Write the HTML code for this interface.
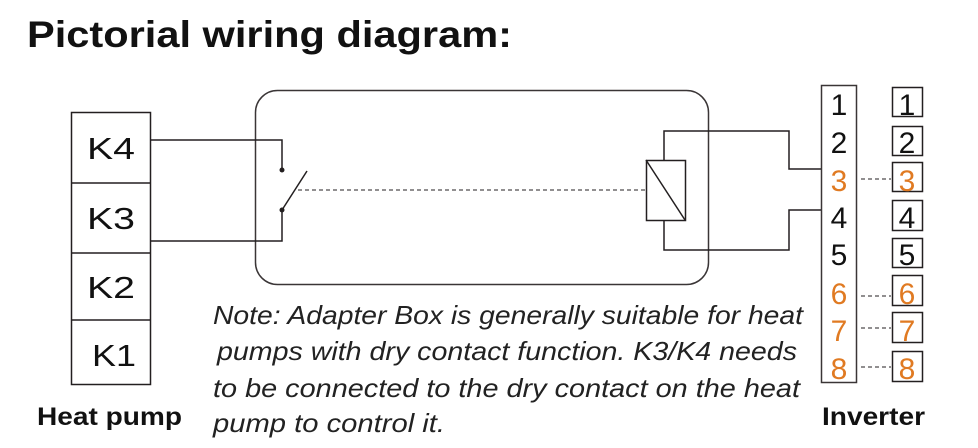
<!DOCTYPE html>
<html><head><style>html,body{margin:0;padding:0;background:#fff}svg{display:block}</style></head>
<body>
<svg width="978" height="448" viewBox="0 0 978 448" xmlns="http://www.w3.org/2000/svg" font-family="Liberation Sans, sans-serif">
<text x="27" y="47" font-size="37" font-weight="bold" textLength="485" lengthAdjust="spacingAndGlyphs" fill="#111">Pictorial wiring diagram:</text>
<g fill="none" stroke="#231f20" stroke-width="1.5">
<rect x="71.5" y="112.5" width="79" height="272"/>
<line x1="71" y1="183" x2="150" y2="183"/>
<line x1="71" y1="253" x2="150" y2="253"/>
<line x1="71" y1="320" x2="150" y2="320"/>
<rect x="255.5" y="90.5" width="453" height="194" rx="22" stroke="#3a3536"/>
<polyline points="150,140 282,140 282,170"/>
<polyline points="150,241 282,241 282,210"/>
<line x1="282" y1="210" x2="307" y2="171"/>
<line x1="298" y1="190" x2="646" y2="190" stroke-dasharray="4,3" stroke-width="1"/>
<rect x="646.5" y="160.5" width="39" height="60"/>
<line x1="646" y1="160" x2="685" y2="220"/>
<polyline points="664,160 664,131 789,131 789,169 821,169"/>
<polyline points="664,220 664,250 789,250 789,210 821,210"/>
<rect x="821.5" y="85.5" width="35" height="297" stroke="#3a3536"/>
<g stroke-dasharray="4,3" stroke-width="1">
<line x1="861" y1="179" x2="891" y2="179"/>
<line x1="861" y1="296" x2="891" y2="296"/>
<line x1="861" y1="328" x2="891" y2="328"/>
<line x1="861" y1="367" x2="891" y2="367"/>
</g>
<rect x="892.5" y="87.5" width="30" height="29"/>
<rect x="892.5" y="126.5" width="30" height="29"/>
<rect x="892.5" y="162.5" width="30" height="29"/>
<rect x="892.5" y="200.5" width="30" height="30"/>
<rect x="892.5" y="238.5" width="30" height="29"/>
<rect x="892.5" y="275.5" width="30" height="30"/>
<rect x="892.5" y="312.5" width="30" height="30"/>
<rect x="892.5" y="351.5" width="30" height="30"/>
</g>
<circle cx="282" cy="170" r="2.5" fill="#231f20"/>
<circle cx="282" cy="210" r="2.5" fill="#231f20"/>
<g font-size="31" fill="#111">
<text x="87" y="159" textLength="48" lengthAdjust="spacingAndGlyphs">K4</text>
<text x="87" y="229" textLength="48" lengthAdjust="spacingAndGlyphs">K3</text>
<text x="87" y="298" textLength="48" lengthAdjust="spacingAndGlyphs">K2</text>
<text x="92" y="366" textLength="44" lengthAdjust="spacingAndGlyphs">K1</text>
</g>
<g font-size="30" text-anchor="middle">
<text x="839" y="115" fill="#111">1</text>
<text x="839" y="153" fill="#111">2</text>
<text x="839" y="191" fill="#e07a22">3</text>
<text x="839" y="228" fill="#111">4</text>
<text x="839" y="265" fill="#111">5</text>
<text x="839" y="304" fill="#e07a22">6</text>
<text x="839" y="341" fill="#e07a22">7</text>
<text x="839" y="379" fill="#e07a22">8</text>
<text x="907" y="115" fill="#111">1</text>
<text x="907" y="153" fill="#111">2</text>
<text x="907" y="191" fill="#e07a22">3</text>
<text x="907" y="228" fill="#111">4</text>
<text x="907" y="265" fill="#111">5</text>
<text x="907" y="304" fill="#e07a22">6</text>
<text x="907" y="341" fill="#e07a22">7</text>
<text x="907" y="379" fill="#e07a22">8</text>
</g>
<g font-size="26" font-style="italic" fill="#222">
<text x="213" y="324" textLength="590" lengthAdjust="spacingAndGlyphs">Note:  Adapter Box is generally suitable for heat</text>
<text x="217" y="360" textLength="580" lengthAdjust="spacingAndGlyphs">pumps with dry contact function. K3/K4 needs</text>
<text x="213" y="397" textLength="587" lengthAdjust="spacingAndGlyphs">to be connected to the dry contact on the heat</text>
<text x="213" y="432" textLength="232" lengthAdjust="spacingAndGlyphs">pump to control it.</text>
</g>
<text x="37" y="425" font-size="25" font-weight="bold" fill="#111" textLength="145" lengthAdjust="spacingAndGlyphs">Heat pump</text>
<text x="822" y="425" font-size="25" font-weight="bold" fill="#111" textLength="103" lengthAdjust="spacingAndGlyphs">Inverter</text>
</svg>
</body></html>
